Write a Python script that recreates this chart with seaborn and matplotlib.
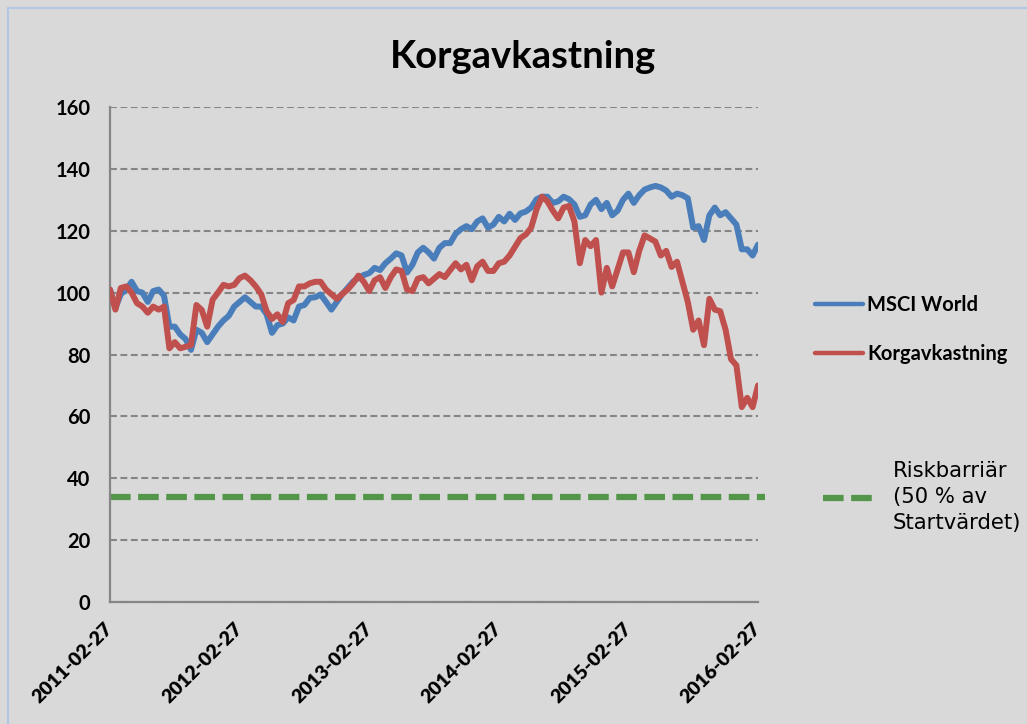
import numpy as np
import pandas as pd
import matplotlib
matplotlib.use("Agg")
import matplotlib.pyplot as plt
import seaborn as sns
from matplotlib.lines import Line2D
from matplotlib.patches import Rectangle

# ---------------- data ----------------
start_date = "2011-02-27"
end_date = "2016-02-27"
tick_labels = ["2011-02-27", "2012-02-27", "2013-02-27", "2014-02-27", "2015-02-27", "2016-02-27"]
y_ticks = [0, 20, 40, 60, 80, 100, 120, 140, 160]
barrier_level = 34

msci_world = [
    101, 95, 99.5, 101, 103.5, 100.5, 100, 97, 100.5, 101,
    99, 89, 89, 86.5, 85, 81.5, 88, 87, 84, 86.5,
    89, 91, 92.5, 95.5, 97, 98.5, 97, 95.5, 95.5, 93,
    87, 89.5, 90, 92, 91, 95.5, 96, 98.3, 98.5, 99.4,
    97, 94.5, 97, 99.5, 101.5, 103.5, 104.8, 105.7, 106.3, 108,
    107.3, 109.5, 111, 112.7, 112, 106.5, 109, 113, 114.5, 113,
    111, 114.5, 116, 116, 119, 120.5, 121.5, 120.5, 123, 124,
    121, 122, 124.5, 123, 125.5, 123.5, 125.6, 126.2, 127.5, 130.2,
    131, 131, 129, 129.5, 131, 130.2, 128.5, 124.5, 125, 128.5,
    130, 127, 129, 125, 126.5, 130, 132, 129, 131.5, 133.3,
    134, 134.5, 134, 133, 131, 132, 131.5, 130.5, 121, 121.5,
    117, 125, 127.5, 125, 126, 124, 122, 114, 114, 112,
    115.5,
]

korgavkastning = [
    101, 94.5, 101.5, 102, 100, 96.6, 95.5, 93.5, 95.5, 94.5,
    95.5, 82, 84, 82, 82.5, 83, 96, 94.4, 89, 97.7,
    100, 102.5, 102, 102.5, 104.7, 105.5, 104, 102, 99.5, 94,
    91.5, 93, 90.5, 96.6, 97.6, 102, 102, 103, 103.5, 103.5,
    101, 99.5, 98, 99.5, 101, 103, 105.5, 103.5, 100.5, 104,
    105, 101.5, 105, 107.5, 107, 101, 100.5, 104.5, 105, 103,
    104.5, 106, 105, 107.3, 109.5, 107.5, 109, 104, 108.5, 110,
    107, 107, 109.5, 110, 112, 114.8, 117.6, 118.8, 121, 127,
    131, 129.5, 126.5, 124, 127.5, 128, 123, 109.5, 117, 115,
    117, 100, 108, 102, 107.5, 113, 113, 106.6, 113.5, 118.5,
    117.5, 116.5, 112, 113.5, 108.3, 110, 103.5, 97, 88, 91,
    83, 98, 94.5, 94, 88, 78.5, 76.5, 63, 66, 63,
    70,
]

series_names = ["MSCI World", "Korgavkastning"]
barrier_label = "Riskbarriär\n(50 % av\nStartvärdet)"
title = "Korgavkastning"

# ---------------- style ----------------
BG = "#d9d9d9"
BLUE = "#4a7ebb"
RED = "#c0504d"
GREEN = "#53964a"
GRID = "#858585"
SPINE = "#868686"

sns.set_style("white")
plt.rcParams["font.family"] = ["Lato", "DejaVu Sans"]
plt.rcParams["text.color"] = "black"
plt.rcParams["xtick.color"] = "black"
plt.rcParams["ytick.color"] = "black"

n = len(msci_world)
dates = pd.date_range(start_date, end_date, periods=n)
df = pd.DataFrame({
    "date": np.concatenate([dates, dates]),
    "value": msci_world + korgavkastning,
    "series": [series_names[0]] * n + [series_names[1]] * n,
})

W, H = 1027, 724
fig = plt.figure(figsize=(W / 100, H / 100), dpi=100, facecolor=BG)
ax = fig.add_axes([110 / W, 1 - 602 / H, 648 / W, 495 / H])
ax.set_facecolor(BG)

sns.lineplot(data=df, x="date", y="value", hue="series",
             palette={series_names[0]: BLUE, series_names[1]: RED},
             linewidth=4.3, ax=ax, legend=False, zorder=3)

ax.axhline(barrier_level, xmin=0, xmax=1.011, color=GREEN, lw=4.5,
           dashes=(3.3, 1.2), clip_on=False, zorder=2)

ax.set_xlim(pd.Timestamp(start_date), pd.Timestamp(end_date))
ax.set_ylim(0, 160)
ax.set_yticks(y_ticks)
ax.set_yticklabels([str(v) for v in y_ticks], fontsize=14.5, fontweight="bold")
ax.set_xticks([pd.Timestamp(t) for t in tick_labels])
ax.set_xticklabels(tick_labels, fontsize=14, fontweight="heavy", rotation=45,
                   ha="right", va="center", rotation_mode="anchor")
ax.tick_params(axis="y", length=0, pad=14)
ax.tick_params(axis="x", length=0, pad=17)
ax.set_xlabel("")
ax.set_ylabel("")

ax.yaxis.grid(True, color=GRID, lw=1.5, linestyle=(0, (3.3, 1.7)))
ax.xaxis.grid(False)
ax.set_axisbelow(True)
for s in ["top", "right"]:
    ax.spines[s].set_visible(False)
for s in ["left", "bottom"]:
    ax.spines[s].set_color(SPINE)
    ax.spines[s].set_linewidth(1.6)

fig.text(523 / W, 1 - 57 / H, title, ha="center", va="center",
         fontsize=27.5, fontweight="bold")

# legend for the two series
handles = [Line2D([], [], color=BLUE, lw=3.2, solid_capstyle="round"),
           Line2D([], [], color=RED, lw=3.2, solid_capstyle="round")]
leg1 = fig.legend(handles, series_names, loc="upper left",
                  bbox_to_anchor=(815 / W, 1 - 295 / H), frameon=False,
                  prop={"size": 14.5, "weight": "bold"}, handlelength=2.4,
                  handletextpad=0.2, labelspacing=1.45, borderpad=0,
                  borderaxespad=0)

# legend for the barrier
bh = [Line2D([], [], color=GREEN, lw=4.5, dashes=(3.3, 1.2))]
leg2 = fig.legend(bh, [barrier_label], loc="center left",
                  bbox_to_anchor=(823 / W, 1 - 497 / H), frameon=False,
                  prop={"size": 15.2, "family": "DejaVu Sans"}, handlelength=2.35,
                  handletextpad=0.95, borderpad=0, borderaxespad=0)
for t in leg2.get_texts():
    t.set_linespacing(1.35)

# chart-area border
fig.patches.append(Rectangle((8 / W, -0.1), 1.2, 1 - 7.5 / H + 0.1,
                             transform=fig.transFigure, fill=False,
                             ec="#b4c6e6", lw=1.5))

fig.savefig("out.png", dpi=100, facecolor=BG)
